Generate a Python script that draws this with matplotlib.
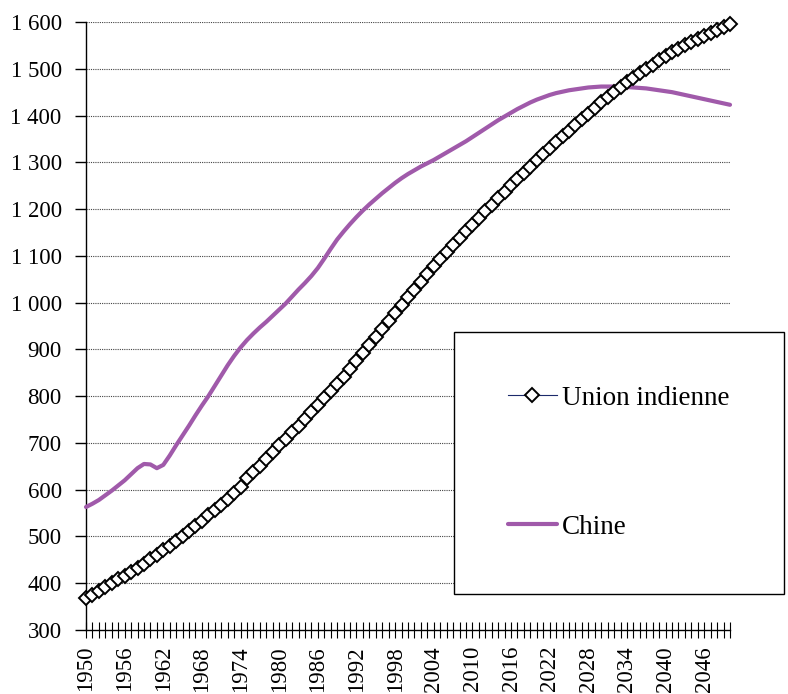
import matplotlib
matplotlib.use("Agg")
import matplotlib.pyplot as plt
import numpy as np

# population, millions, 1950-2050
years = list(range(1950, 2051))

inde = [
    368, 375, 383, 392, 400, 408, 416, 424, 433, 442,
    451, 460, 470, 480, 490, 500, 511, 522, 533, 545,
    556, 568, 580, 593, 606, 624, 637, 651, 665, 680,
    695, 709, 723, 737, 751, 766, 781, 796, 811, 826,
    842, 858, 875, 892, 909, 926, 943, 960, 977, 994,
    1011, 1028, 1045, 1062, 1078, 1093, 1108, 1123, 1138, 1153,
    1167, 1181, 1195, 1209, 1223, 1237, 1251, 1264, 1278, 1291,
    1304, 1317, 1330, 1343, 1356, 1368, 1380, 1392, 1404, 1416,
    1428, 1439, 1450, 1461, 1471, 1481, 1491, 1500, 1509, 1518,
    1527, 1535, 1543, 1550, 1557, 1564, 1571, 1577, 1583, 1589,
    1595,
]

chine = [
    563, 570, 578, 588, 598, 609, 620, 633, 646, 655,
    654, 646, 653, 673, 695, 716, 737, 759, 780, 800,
    822, 844, 866, 886, 904, 920, 934, 947, 959, 972,
    985, 998, 1013, 1028, 1042, 1057, 1074, 1094, 1115, 1135,
    1152, 1168, 1183, 1197, 1210, 1222, 1234, 1245, 1256, 1266,
    1275, 1283, 1291, 1298, 1305, 1313, 1321, 1329, 1337, 1345,
    1354, 1363, 1372, 1381, 1390, 1398, 1406, 1414, 1421, 1428,
    1434, 1439, 1444, 1448, 1451, 1454, 1456, 1458, 1460, 1461,
    1462, 1462, 1462, 1462, 1461, 1460, 1459, 1458, 1456, 1454,
    1452, 1450, 1447, 1444, 1441, 1438, 1435, 1432, 1429, 1426,
    1423,
]

yticks = list(range(300, 1700, 100))
xlabels = list(range(1950, 2050, 6))

plt.rcParams["font.family"] = ["Liberation Serif", "DejaVu Serif"]
plt.rcParams["font.size"] = 16.5

fig = plt.figure(figsize=(7.88, 6.94), dpi=100)
ax = fig.add_axes([86 / 788, 1 - 630 / 694, 644 / 788, 608 / 694])

ax.plot(years, chine, color="#a05aaa", lw=3.0, solid_capstyle="round",
        label="Chine", zorder=3, clip_on=False)
ax.plot(years, inde, color="#1c2a6b", lw=0.8, marker="D", ms=7.2,
        mfc="white", mec="black", mew=1.4, label="Union indienne",
        zorder=4, clip_on=False)

ax.set_xlim(1950, 2050)
ax.set_ylim(300, 1600)

ax.set_yticks(yticks)
ax.set_yticklabels([f"{v:,}".replace(",", " ") for v in yticks])
ax.set_xticks(years)
ax.set_xticklabels([str(y) if y in xlabels else "" for y in years], rotation=90)

ax.tick_params(axis="y", direction="out", length=8, width=1, pad=9.5)
ax.tick_params(axis="x", direction="inout", length=12, width=0.8, pad=5.5)

for v in yticks[1:]:
    ax.axhline(v, color="#444444", lw=0.8, ls=(0, (1, 1)), zorder=1)

for side in ["top", "right"]:
    ax.spines[side].set_visible(False)
for side in ["left", "bottom"]:
    ax.spines[side].set_linewidth(1)
    ax.spines[side].set_color("black")

# legend: India first, then China
h, l = ax.get_legend_handles_labels()
leg = ax.legend(h[::-1], l[::-1], loc="lower left",
                bbox_to_anchor=(0.571, 0.059), bbox_transform=ax.transAxes,
                frameon=True, fancybox=False, borderpad=2.0, fontsize=19.5,
                labelspacing=3.85, handlelength=1.8, handletextpad=0.2,
                borderaxespad=0)
leg.get_frame().set_edgecolor("black")
leg.get_frame().set_linewidth(1)
leg.get_frame().set_alpha(1)

fig.savefig("out.png", dpi=100)
